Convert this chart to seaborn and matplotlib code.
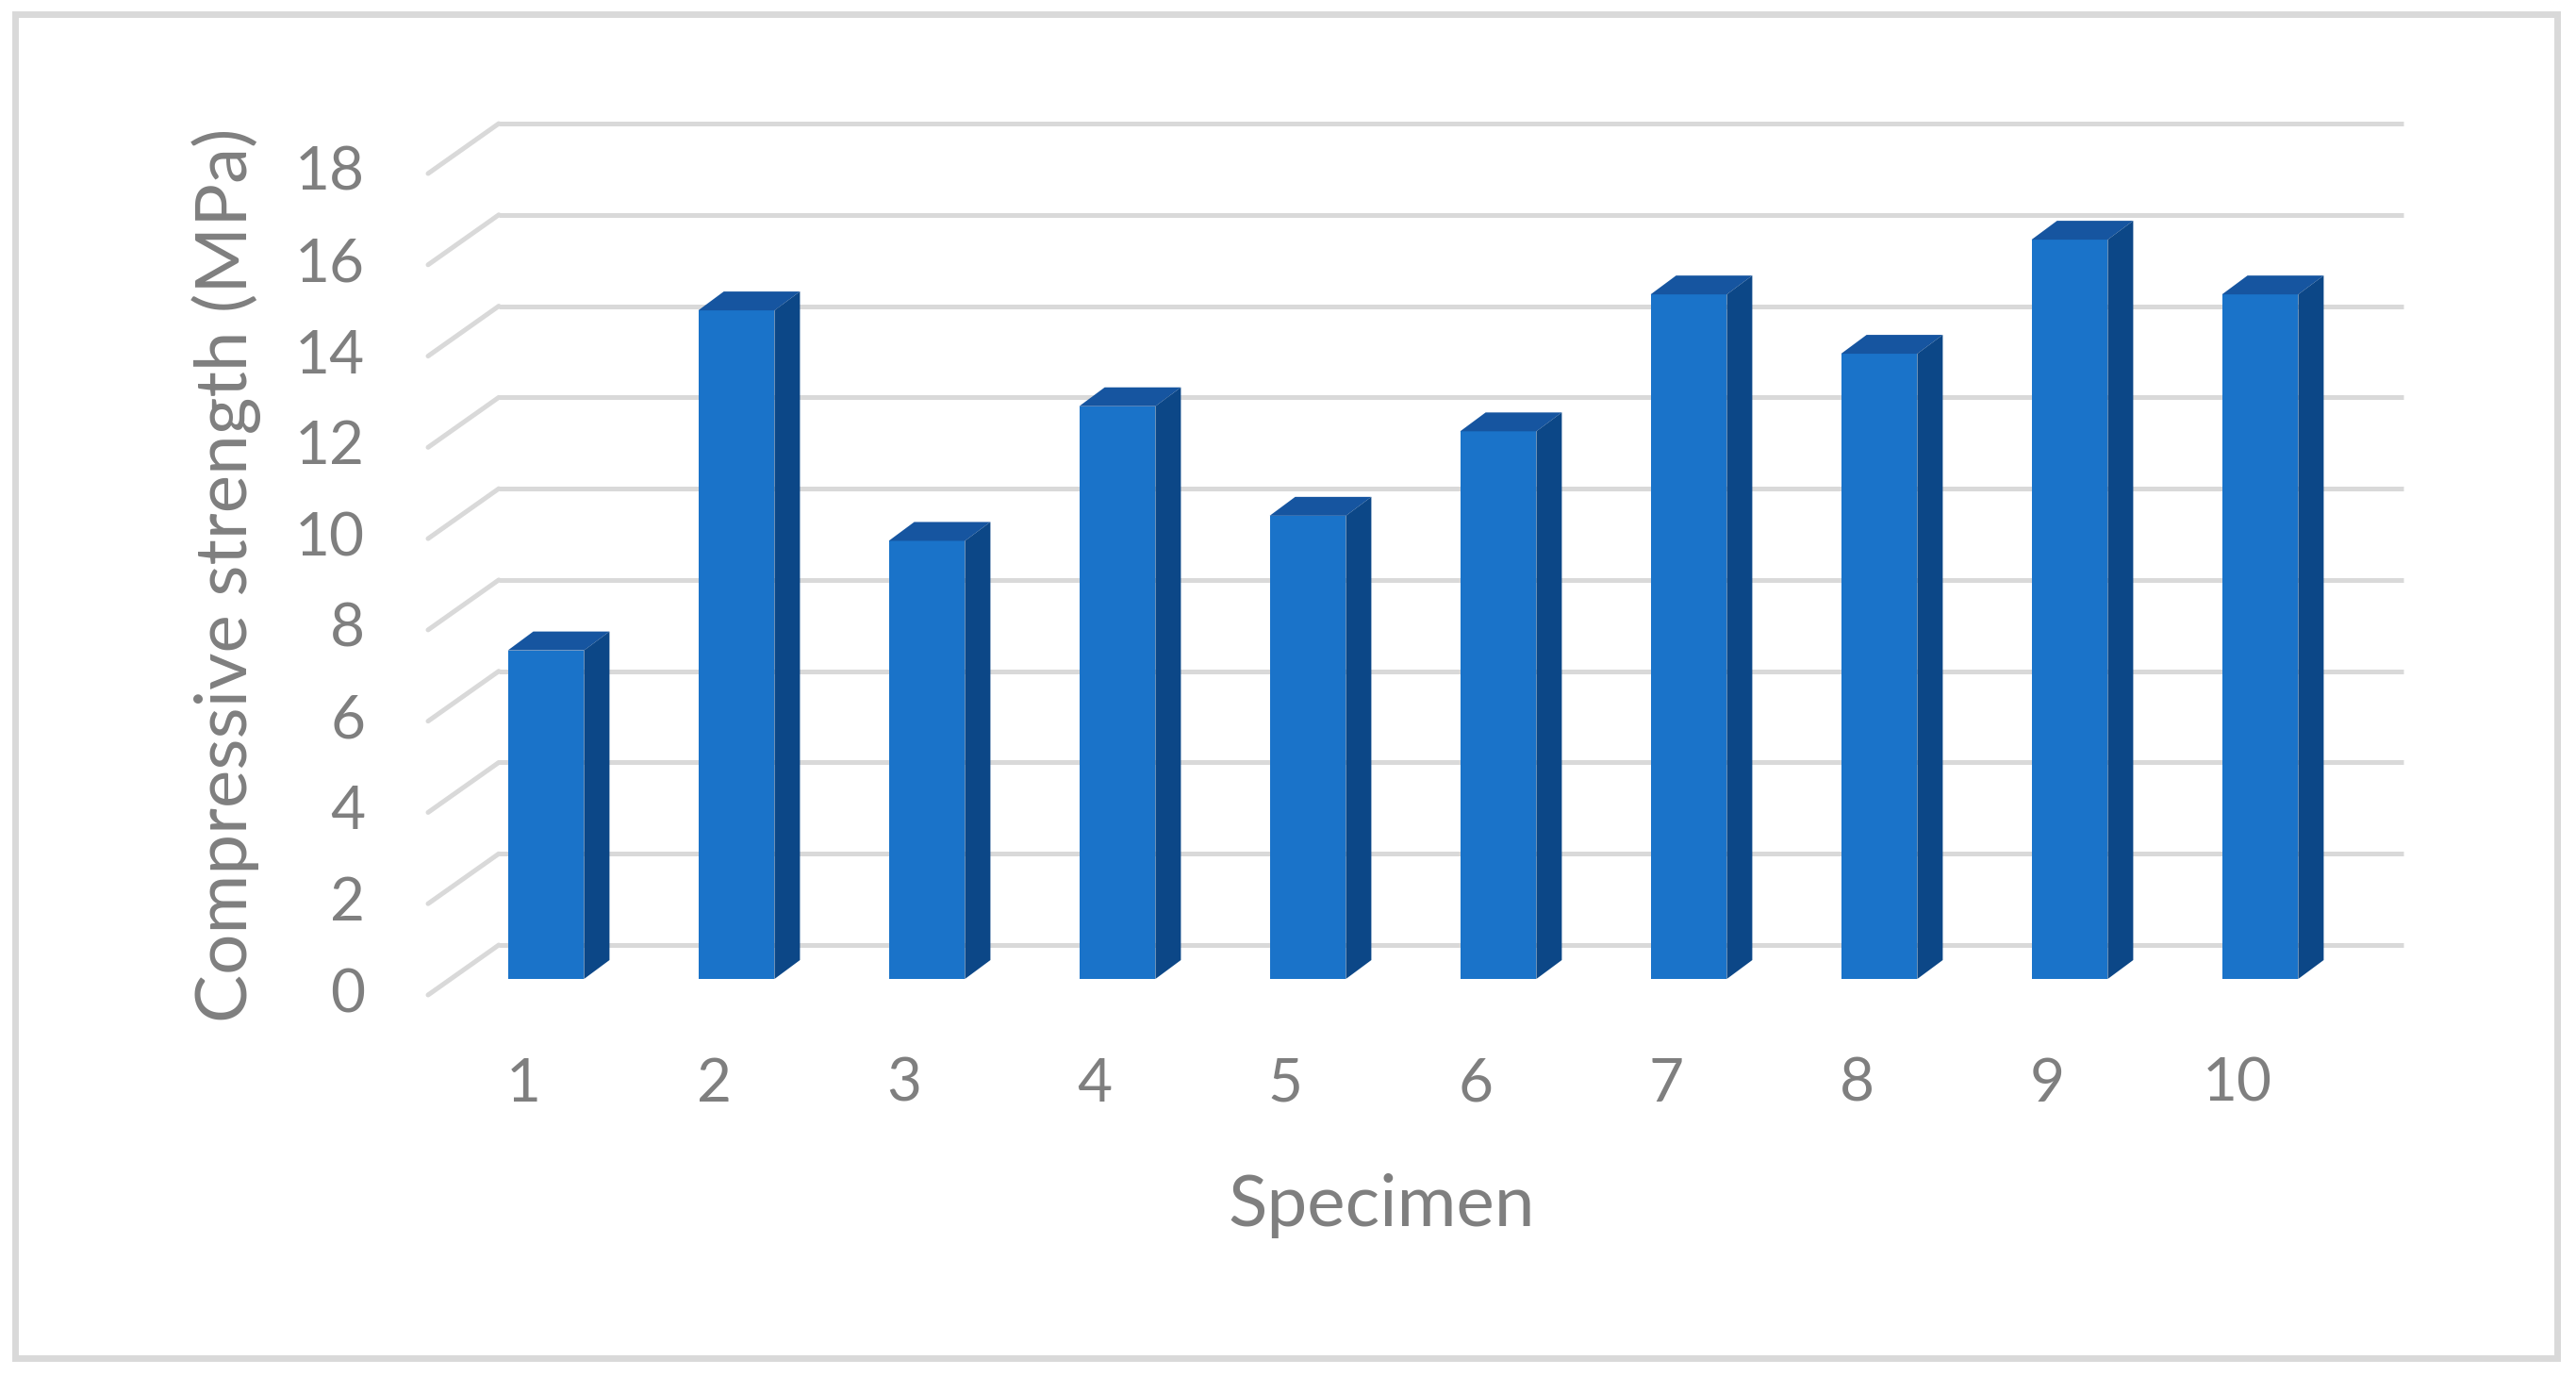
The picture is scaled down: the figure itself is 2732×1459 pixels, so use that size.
import matplotlib
matplotlib.use("Agg")
import matplotlib.pyplot as plt
import matplotlib.transforms as mtransforms
from matplotlib.patches import Polygon, Rectangle
import seaborn as sns

# data
specimens = ["1", "2", "3", "4", "5", "6", "7", "8", "9", "10"]
strength = [7.2, 14.65, 9.6, 12.55, 10.15, 12.0, 15.0, 13.7, 16.2, 15.0]
y_ticks = [0, 2, 4, 6, 8, 10, 12, 14, 16, 18]

FRONT = "#1a73c9"
TOP = "#1655a0"
SIDE = "#0c4787"
GRID = "#d9d9d9"
TEXT = "#7f7f7f"

W, H = 2732, 1459

sns.set_theme(style="white")
plt.rcParams["font.family"] = ["Lato", "DejaVu Sans"]

fig = plt.figure(figsize=(W / 100, H / 100), dpi=100)
ax = fig.add_axes([478 / W, (H - 1038) / H, 2020 / W, 871 / H])

sns.barplot(x=specimens, y=strength, color=FRONT, saturation=1, width=0.4,
            linewidth=0, edgecolor=FRONT, ax=ax, zorder=3)
ax.set_xlim(-0.5, len(specimens) - 0.5)
ax.set_ylim(0, 18)


def shift(dx, dy):
    # pixel offset as a transform
    return mtransforms.ScaledTranslation(dx / 100, dy / 100, fig.dpi_scale_trans)


def px2data(dx, dy):
    s = ax.transData.transform((1, 1)) - ax.transData.transform((0, 0))
    return dx / s[0], dy / s[1]


x_lo, x_hi = ax.get_xlim()

# back wall gridlines
ax.hlines(y_ticks, x_lo, x_hi, colors=GRID, linewidth=3.6,
          transform=ax.transData + shift(51, 36), clip_on=False, zorder=0)

# side wall diagonals
fx, fy = px2data(-24, -17)
bx, by = px2data(51, 36)
for v in y_ticks:
    ax.plot([x_lo + fx, x_lo + bx], [v + fy, v + by], color=GRID,
            linewidth=3.6, solid_capstyle="round", clip_on=False, zorder=0)

# 3d faces of the bars
ddx, ddy = px2data(27, 20)
for p in list(ax.patches):
    x0, w, h = p.get_x(), p.get_width(), p.get_height()
    x1 = x0 + w
    ax.add_patch(Polygon([(x0, h), (x1, h), (x1 + ddx, h + ddy), (x0 + ddx, h + ddy)],
                         closed=True, facecolor=TOP, edgecolor="none",
                         zorder=3, clip_on=False))
    ax.add_patch(Polygon([(x1, 0), (x1, h), (x1 + ddx, h + ddy), (x1 + ddx, ddy)],
                         closed=True, facecolor=SIDE, edgecolor="none",
                         zorder=3, clip_on=False))

# tick labels on the front edge
ax.set_xticks([])
ax.set_yticks([])
lx, _ = px2data(-91, 0)
_, ly = px2data(0, -17)
for v in y_ticks:
    ax.text(x_lo + lx, v + ly, str(v), ha="right", va="center",
            fontsize=46, color=TEXT, clip_on=False)
tx, ty = px2data(-24, -112)
for i, s in enumerate(specimens):
    ax.text(i + tx, ty, s, ha="center", va="center", fontsize=46,
            color=TEXT, clip_on=False)

sns.despine(ax=ax, left=True, bottom=True)

ax.set_xlabel("Specimen", fontsize=55, color=TEXT)
ax.xaxis.set_label_coords(0.4886, -0.3008)
ax.xaxis.label.set_va("baseline")
ax.set_ylabel("Compressive strength (MPa)", fontsize=55, color=TEXT)
ax.yaxis.set_label_coords(-0.1069, 0.4914)
ax.yaxis.label.set_va("baseline")

# outer chart border
fig.patches.append(Rectangle((16 / W, (H - 1440) / H), (2712 - 16) / W,
                             (1440 - 15) / H, transform=fig.transFigure,
                             fill=False, edgecolor=GRID, linewidth=5))

fig.savefig("out.png", dpi=100, facecolor="white")
